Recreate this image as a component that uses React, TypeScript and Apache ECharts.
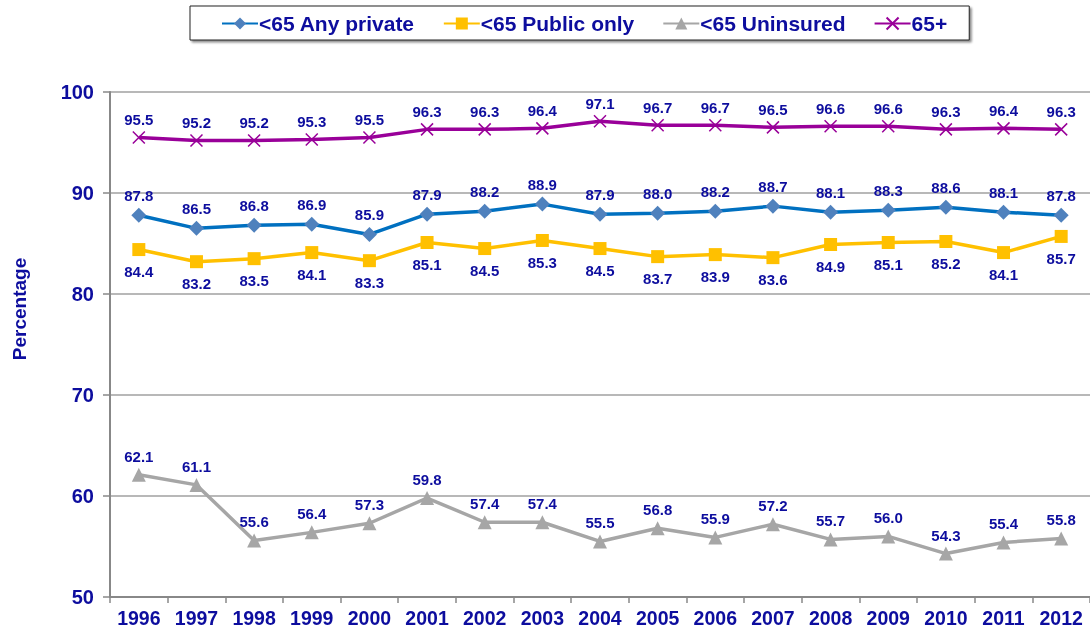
import React, { useEffect, useRef } from "react";
import * as echarts from "echarts";

const years = ["1996","1997","1998","1999","2000","2001","2002","2003","2004","2005","2006","2007","2008","2009","2010","2011","2012"];
const anyPrivate = [87.8,86.5,86.8,86.9,85.9,87.9,88.2,88.9,87.9,88.0,88.2,88.7,88.1,88.3,88.6,88.1,87.8];
const publicOnly = [84.4,83.2,83.5,84.1,83.3,85.1,84.5,85.3,84.5,83.7,83.9,83.6,84.9,85.1,85.2,84.1,85.7];
const uninsured = [62.1,61.1,55.6,56.4,57.3,59.8,57.4,57.4,55.5,56.8,55.9,57.2,55.7,56.0,54.3,55.4,55.8];
const over65 = [95.5,95.2,95.2,95.3,95.5,96.3,96.3,96.4,97.1,96.7,96.7,96.5,96.6,96.6,96.3,96.4,96.3];
const yTicks = [50, 60, 70, 80, 90, 100];

const TXT = "#0D0D9E";
const FONT = "'Liberation Sans', Arial, sans-serif";

export default function App() {
  const ref = useRef<HTMLDivElement>(null);
  useEffect(() => {
    const chart = echarts.init(ref.current!, null, { renderer: "svg" });
    const lbl = (pos: string, dist: number) => ({
      show: true,
      position: pos,
      distance: dist,
      color: TXT,
      fontFamily: FONT,
      fontWeight: "bold",
      fontSize: 15,
      formatter: (p: any) => Number(p.value).toFixed(1),
    });
    const mk = (name: string, data: number[], lineColor: string, markColor: string, symbol: string, size: number, pos: string, dist: number, extraItem: any = {}) => ({
      name,
      type: "line",
      data,
      symbol,
      symbolSize: size,
      lineStyle: { color: lineColor, width: 3.5 },
      itemStyle: { color: markColor, ...extraItem },
      label: lbl(pos, dist),
      z: 3,
    });
    const xSym = "path://M0,0L10,10M10,0L0,10";
    chart.setOption({
      animation: false,
      textStyle: { fontFamily: FONT },
      legend: {
        left: 190,
        top: 6,
        padding: [7, 22, 6, 31],
        itemGap: 28,
        itemWidth: 36,
        itemHeight: 15,
        backgroundColor: "#fff",
        borderColor: "#222",
        borderWidth: 1,
        shadowColor: "rgba(0,0,0,0.45)",
        shadowBlur: 2,
        shadowOffsetX: 2,
        shadowOffsetY: 2,
        textStyle: { color: TXT, fontFamily: FONT, fontWeight: "bold", fontSize: 21, padding: [0, 0, 0, -4] },
        data: ["<65 Any private", "<65 Public only", "<65 Uninsured", "65+"],
      },
      grid: { left: 110, right: 0, top: 92, bottom: 38 },
      graphic: [
        {
          type: "text",
          x: 19,
          y: 309,
          rotation: Math.PI / 2,
          style: {
            text: "Percentage",
            fill: TXT,
            font: "bold 19px 'Liberation Sans', Arial, sans-serif",
            align: "center",
            verticalAlign: "middle",
          },
        },
      ],
      xAxis: {
        type: "category",
        data: years,
        boundaryGap: true,
        axisLine: { lineStyle: { color: "#888", width: 2 } },
        axisTick: { show: true, length: 6, lineStyle: { color: "#888", width: 1.5 } },
        axisLabel: { color: TXT, fontFamily: FONT, fontWeight: "bold", fontSize: 19.5, margin: 11 },
        splitLine: { show: false },
      },
      yAxis: {
        type: "value",
        min: yTicks[0],
        max: yTicks[yTicks.length - 1],
        interval: 10,
        axisLine: { show: true, lineStyle: { color: "#888", width: 2 } },
        axisTick: { show: true, length: 7, lineStyle: { color: "#888", width: 1.5 } },
        axisLabel: { color: TXT, fontFamily: FONT, fontWeight: "bold", fontSize: 20, margin: 16 },
        splitLine: { show: true, lineStyle: { color: "#a0a0a0", width: 1.5 } },
      },
      series: [
        mk("<65 Any private", anyPrivate, "#0070C0", "#4F81BD", "diamond", 15, "top", 5),
        mk("<65 Public only", publicOnly, "#FFC000", "#FFC000", "rect", 13, "bottom", 8),
        mk("<65 Uninsured", uninsured, "#A6A6A6", "#A6A6A6", "triangle", 14, "top", 4),
        mk("65+", over65, "#990099", "#990099", xSym, 12, "top", 4, { borderColor: "#990099", borderWidth: 1.5 }),
      ],
    });
    return () => chart.dispose();
  }, []);
  return <div ref={ref} style={{ position: "fixed", left: 0, top: 0, width: 1090, height: 635 }} />;
}
